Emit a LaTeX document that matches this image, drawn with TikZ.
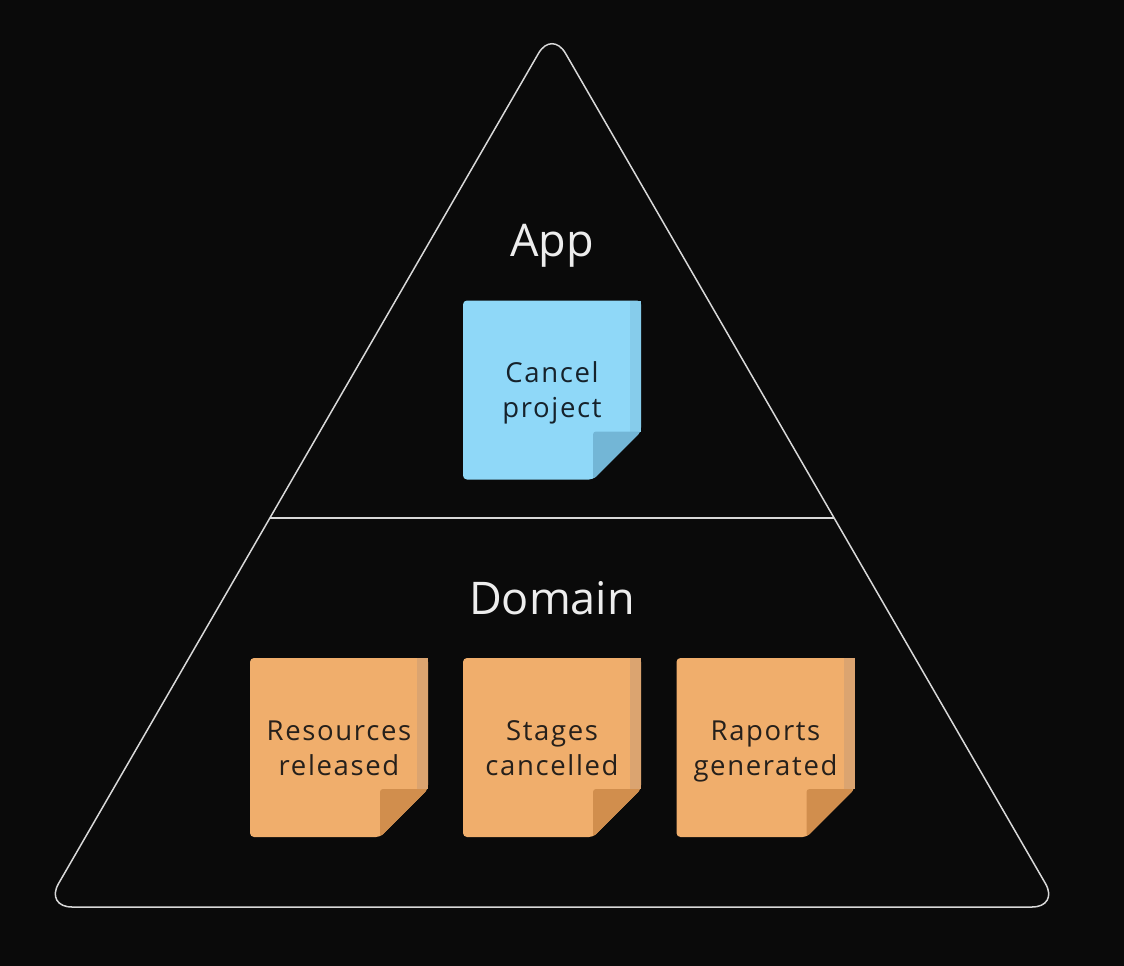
\documentclass[tikz,border=0pt]{standalone}
\usepackage{fontspec}
\setmainfont{Open Sans}
\newfontfamily\notefont[LetterSpace=6]{Open Sans}
\usetikzlibrary{calc}
\definecolor{bgc}{HTML}{0A0A0A}
\definecolor{linec}{HTML}{D8D8D8}
\definecolor{labelc}{HTML}{EDEDED}
\definecolor{bluemain}{HTML}{8FD8F8}
\definecolor{bluestrip}{HTML}{86CCEB}
\definecolor{bluefold}{HTML}{73B6D6}
\definecolor{bluetext}{HTML}{16222B}
\definecolor{orangemain}{HTML}{F0AE6C}
\definecolor{orangestrip}{HTML}{DBA470}
\definecolor{orangefold}{HTML}{D18E4D}
\definecolor{orangetext}{HTML}{26201B}
\tikzset{
  frame/.style={draw=linec, line width=1.5pt, rounded corners=27pt, line join=round},
  divider/.style={draw=linec, line width=1.5pt},
  layerlabel/.style={text=labelc, font=\fontsize{45}{50}\selectfont, inner sep=0pt, anchor=base},
  notetext/.style={font=\notefont\fontsize{27.5}{35}\selectfont, align=center, inner sep=0pt},
}
\newcommand\stickynote[5]{% name, x, y (centre), colour prefix, text
  \begin{scope}[shift={(#2,#3)}]
    \fill[#4main, rounded corners=4pt] (-89,-89.5) -- (89,-89.5) -- (89,41.5) -- (41,89.5) -- (-89,89.5) -- cycle;
    \fill[#4strip] (78,-89.5) -- (89,-89.5) -- (89,41.5) -- (78,41.5) -- cycle;
    \fill[#4fold, rounded corners=3pt] (41,41.5) -- (89,41.5) -- (41,89.5) -- cycle;
  \end{scope}
  \node[notetext, text=#4text] (#1) at ($(#2,#3)+(0,3)$) {#5};
}
\begin{document}
\begin{tikzpicture}[x=1pt,y=-1pt]
\fill[bgc] (0,0) rectangle (1124,966);
\useasboundingbox (0,0) rectangle (1124,966);
\coordinate (apex) at (552,30);
\coordinate (bl) at (45,907);
\coordinate (br) at (1059,907);
\path[frame] (apex) -- (br) -- (bl) -- cycle;
\coordinate (dl) at ($(apex)!0.5564!(bl)$);
\coordinate (dr) at ($(apex)!0.5564!(br)$);
\path[divider] (dl) -- (dr);
\node[layerlabel] (app) at (552,256) {App};
\node[layerlabel] (domain) at (552,614) {Domain};
\stickynote{cancel}{552}{390}{blue}{Cancel\strut\\project\strut}
\stickynote{resources}{339}{747.5}{orange}{Resources\strut\\released\strut}
\stickynote{stages}{552}{747.5}{orange}{Stages\strut\\cancelled\strut}
\stickynote{raports}{765.5}{747.5}{orange}{Raports\strut\\generated\strut}
\end{tikzpicture}
\end{document}
